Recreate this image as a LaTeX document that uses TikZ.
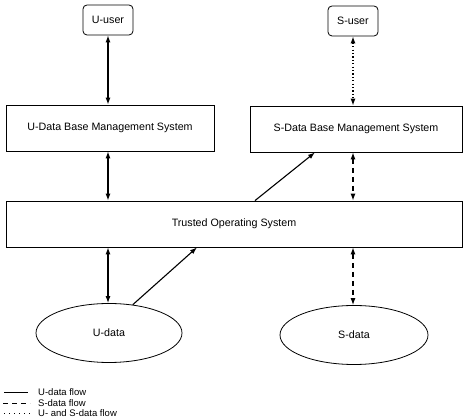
\documentclass[tikz,border=0pt]{standalone}
\usepackage{fontspec}
\setmainfont{Liberation Sans}
\usetikzlibrary{shapes.geometric,arrows.meta}

\tikzset{
  userbox/.style={draw,line width=0.8pt,rounded corners=4pt,minimum width=50pt,minimum height=30pt,font=\fontsize{10.7}{12}\selectfont},
  sysbox/.style={draw,line width=0.8pt,minimum height=46pt,font=\fontsize{10.7}{12}\selectfont},
  datanode/.style={draw,ellipse,line width=0.8pt,minimum width=146pt,minimum height=59pt,font=\fontsize{10.7}{12}\selectfont},
  flowu/.style={line width=1.1pt,{Latex[length=7pt,width=5pt]}-{Latex[length=7pt,width=5pt]}},
  flows/.style={flowu,dash pattern=on 5pt off 4pt},
  flowus/.style={flowu,dash pattern=on 1.2pt off 2.2pt},
  legtext/.style={anchor=west,font=\fontsize{9.5}{11}\selectfont,inner sep=0pt}
}

\begin{document}
\begin{tikzpicture}[x=1pt,y=1pt]
\useasboundingbox (0,0) rectangle (466,420);
% users
\node[userbox] (uuser) at (108,400) {U-user};
\node[userbox] (suser) at (353,399) {S-user};
% data base management systems
\node[sysbox,minimum width=208pt] (udbms) at (110,292) {U-Data Base Management System};
\node[sysbox,minimum width=212pt] (sdbms) at (356,291) {S-Data Base Management System};
% trusted operating system
\node[sysbox,minimum width=456pt] (tos) at (234,196) {Trusted Operating System};
% data stores
\node[datanode] (udata) at (109,87) {U-data};
\node[datanode,minimum width=148pt] (sdata) at (354,85) {S-data};

% flows
\draw[flowu] (uuser.south) -- (uuser.south |- udbms.north);
\draw[flowus] (suser.south) -- (suser.south |- sdbms.north);
\draw[flowu] (uuser.south |- udbms.south) -- (uuser.south |- tos.north);
\draw[flows] (suser.south |- sdbms.south) -- (suser.south |- tos.north);
\draw[flowu] (uuser.south |- tos.south) -- (uuser.south |- udata.north);
\draw[flows] (suser.south |- tos.south) -- (suser.south |- sdata.north);
\draw[line width=1.1pt,-{Latex[length=7pt,width=5pt]}] (udata.50) -- ([xshift=-37pt]tos.south);
\draw[line width=1.1pt,-{Latex[length=7pt,width=5pt]}] ([xshift=21pt]tos.north) -- ([xshift=-41pt]sdbms.south);

% legend
\draw[line width=0.9pt] (4,28) -- (28,28);
\draw[line width=0.9pt,dash pattern=on 5pt off 4pt] (3,17) -- (30,17);
\draw[line width=0.9pt,dash pattern=on 1.2pt off 3.8pt] (4,7) -- (30,7);
\node[legtext] (legu) at (38,28) {U-data flow};
\node[legtext] (legs) at (38,17) {S-data flow};
\node[legtext] (legus) at (38,7) {U- and S-data flow};
\end{tikzpicture}
\end{document}
